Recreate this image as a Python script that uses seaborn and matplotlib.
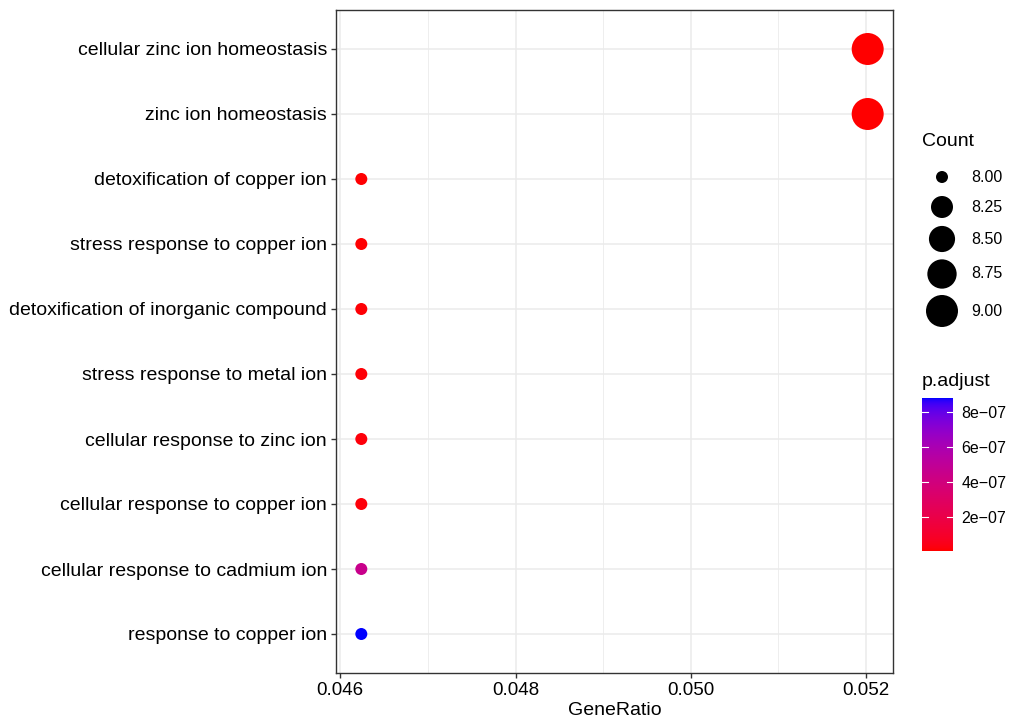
import matplotlib
matplotlib.use("Agg")
import matplotlib.pyplot as plt
from matplotlib.colors import ListedColormap, Normalize
import numpy as np
import pandas as pd
import seaborn as sns

# enrichment terms, top to bottom
terms = [
    "cellular zinc ion homeostasis",
    "zinc ion homeostasis",
    "detoxification of copper ion",
    "stress response to copper ion",
    "detoxification of inorganic compound",
    "stress response to metal ion",
    "cellular response to zinc ion",
    "cellular response to copper ion",
    "cellular response to cadmium ion",
    "response to copper ion",
]
gene_ratio = [0.05202, 0.05202, 0.04624, 0.04624, 0.04624,
              0.04624, 0.04624, 0.04624, 0.04624, 0.04624]
counts = [9, 9, 8, 8, 8, 8, 8, 8, 8, 8]
p_adjust = [6e-09, 6e-09, 1.2e-08, 1.2e-08, 1.5e-08,
            1.8e-08, 2e-08, 2.2e-08, 4.5e-07, 8.8e-07]

size_breaks = [8.00, 8.25, 8.50, 8.75, 9.00]
p_breaks = [2e-07, 4e-07, 6e-07, 8e-07]
p_labels = ["2e\u221207", "4e\u221207", "6e\u221207", "8e\u221207"]

df = pd.DataFrame({"term": terms, "GeneRatio": gene_ratio,
                   "Count": counts, "p.adjust": p_adjust})


def lab_ramp(c1, c2, n=256):
    # red -> blue blended in CIE Lab, like ggplot's gradient
    def to_lab(rgb):
        rgb = np.array(rgb, float)
        lin = np.where(rgb > 0.04045, ((rgb + 0.055) / 1.055) ** 2.4, rgb / 12.92)
        m = np.array([[0.4124, 0.3576, 0.1805],
                      [0.2126, 0.7152, 0.0722],
                      [0.0193, 0.1192, 0.9505]])
        xyz = m @ lin / np.array([0.95047, 1.0, 1.08883])
        f = np.where(xyz > 0.008856, np.cbrt(xyz), 7.787 * xyz + 16 / 116)
        return np.array([116 * f[1] - 16, 500 * (f[0] - f[1]), 200 * (f[1] - f[2])])

    def to_rgb(lab):
        fy = (lab[0] + 16) / 116
        f = np.array([fy + lab[1] / 500, fy, fy - lab[2] / 200])
        xyz = np.where(f ** 3 > 0.008856, f ** 3, (f - 16 / 116) / 7.787)
        xyz = xyz * np.array([0.95047, 1.0, 1.08883])
        m = np.array([[3.2406, -1.5372, -0.4986],
                      [-0.9689, 1.8758, 0.0415],
                      [0.0557, -0.2040, 1.0570]])
        lin = np.clip(m @ xyz, 0, 1)
        return np.where(lin > 0.0031308, 1.055 * lin ** (1 / 2.4) - 0.055, 12.92 * lin)

    a, b = to_lab(c1), to_lab(c2)
    return ListedColormap([np.clip(to_rgb(a + (b - a) * t), 0, 1)
                           for t in np.linspace(0, 1, n)])


cmap = lab_ramp((1, 0, 0), (0, 0, 1))
pnorm = Normalize(min(p_adjust), max(p_adjust))


def count_to_s(c):
    # ggplot area scale, range 3..8 (size units), 4 px per unit at 100 dpi
    t = (c - min(counts)) / (max(counts) - min(counts))
    size = 3 + 5 * np.sqrt(t)
    d_pt = size * 4 * 0.72
    return d_pt ** 2


plt.rcParams["font.family"] = ["Liberation Sans", "DejaVu Sans"]
fig = plt.figure(figsize=(10.09, 7.24), dpi=100)
ax = fig.add_axes([336 / 1009, 51 / 724, 557 / 1009, 663 / 724])

sns.scatterplot(data=df, x="GeneRatio", y="term", hue="p.adjust",
                palette=cmap, hue_norm=pnorm, size="Count",
                sizes={c: count_to_s(c) for c in set(counts)},
                linewidth=0, legend=False, ax=ax, zorder=3)

span = max(gene_ratio) - min(gene_ratio)
ax.set_xlim(min(gene_ratio) - 0.05 * span, max(gene_ratio) + 0.05 * span)
ax.set_ylim(len(terms) - 0.4, -0.6)
ax.set_xticks([0.046, 0.048, 0.050, 0.052])
ax.set_xticklabels(["0.046", "0.048", "0.050", "0.052"])
ax.set_xticks([0.047, 0.049, 0.051], minor=True)
ax.grid(True, which="major", color="#EBEBEB", linewidth=1.1, zorder=0)
ax.grid(True, which="minor", axis="x", color="#EBEBEB", linewidth=0.6, zorder=0)
ax.set_axisbelow(True)
for sp in ax.spines.values():
    sp.set_color("#333333")
    sp.set_linewidth(1.0)
ax.tick_params(which="major", length=3.5, color="#333333", width=1.0,
               labelsize=14, labelcolor="black", pad=3)
ax.tick_params(which="minor", length=0)
ax.tick_params(axis="x", labelsize=13.5)
ax.set_xlabel("GeneRatio", fontsize=14, labelpad=2)
ax.set_ylabel("")

# size legend
fig.text(922 / 1009, 1 - 142 / 724, "Count", fontsize=14, va="center", ha="left")
lax = fig.add_axes([0, 0, 1, 1], facecolor="none")
lax.set_xlim(0, 1009)
lax.set_ylim(724, 0)
lax.axis("off")
leg_y = [177, 207, 239, 274, 311]
lax.scatter([942] * len(size_breaks), leg_y,
            s=[count_to_s(v) for v in size_breaks], color="black", linewidth=0)
for v, yy in zip(size_breaks, leg_y):
    lax.text(971, yy, f"{v:.2f}", fontsize=11.5, va="center", ha="left")

# colour bar
fig.text(922 / 1009, 1 - 381 / 724, "p.adjust", fontsize=14, va="center", ha="left")
cax = fig.add_axes([922 / 1009, 1 - 551 / 724, 31 / 1009, 153 / 724])
grad = np.linspace(pnorm.vmin, pnorm.vmax, 256).reshape(-1, 1)
cax.imshow(grad, aspect="auto", origin="lower", cmap=cmap, norm=pnorm,
           extent=[0, 1, pnorm.vmin, pnorm.vmax])
cax.set_xlim(0, 1)
cax.set_ylim(pnorm.vmin, pnorm.vmax)
cax.set_xticks([])
for sp in cax.spines.values():
    sp.set_visible(False)
cax.yaxis.tick_right()
cax.set_yticks(p_breaks)
cax.set_yticklabels(p_labels)
cax.tick_params(axis="y", length=0, labelsize=11.5, pad=6)
for v in p_breaks:
    cax.plot([0, 0.2], [v, v], color="white", linewidth=0.8)
    cax.plot([0.8, 1], [v, v], color="white", linewidth=0.8)

fig.savefig("out.png", dpi=100)
